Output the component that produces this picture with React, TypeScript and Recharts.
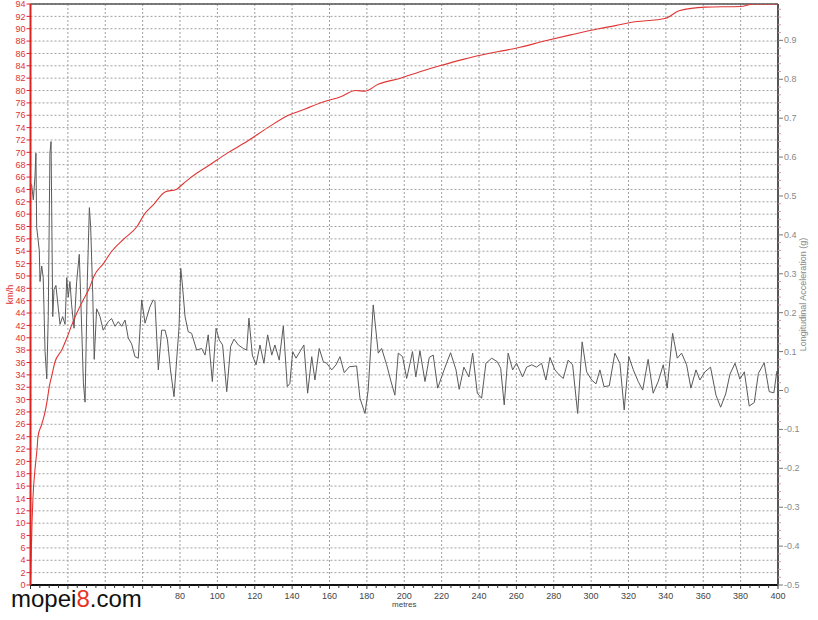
import React from 'react';
import {
  ComposedChart, Line, XAxis, YAxis, CartesianGrid, ReferenceLine,
} from 'recharts';

// speed trace (km/h) against distance (metres)
const SPEED_DIST = [
  0, 0.8, 1.3, 2.5, 3.5, 4, 6, 7.8, 9, 10, 11.5, 13, 16.7, 19.5, 22, 24.8, 28, 31.5, 34, 39, 43.5,
  50, 57, 61, 65.7, 72, 78, 82, 86, 96, 106, 117, 127, 138, 147, 155, 166, 174, 179, 186, 198,
  208, 219, 231, 245, 254, 262, 275, 289, 304, 313, 321, 340, 347, 361, 380, 387, 400,
];
const SPEED_KMH = [
  0, 10, 14, 19, 22, 24, 26, 28, 30, 32, 34, 36, 38, 40, 42, 44, 46, 48, 50, 52, 54,
  56, 58, 60, 61.5, 63.6, 64, 65, 66, 68, 70, 72, 74, 76, 77, 78, 79, 80, 79.9, 81, 82,
  83, 84, 85, 86, 86.5, 87, 88, 89, 90, 90.5, 91, 91.7, 92.9, 93.5, 93.6, 94, 94,
];

// longitudinal acceleration (g) against distance (metres)
const ACCEL_DIST = [
  0.6, 1.5, 2.4, 2.9, 3.3, 4.7, 5.1, 6.0, 6.8, 7.8, 8.7, 9.5, 10.4, 11.0, 11.9, 12.6, 13.6, 14.9,
  15.8, 17.2, 18.5, 19.4, 20.2, 21.1, 22.0, 23.3, 24.7, 26.1, 27.0, 28.3, 29.2, 30.4, 31.5, 32.2,
  33.3, 34.1, 35.4, 37.2, 38.9, 41.6, 43.4, 45.2, 47.0, 48.8, 50.6, 52.3, 54.1, 55.9, 57.7, 59.5,
  61.3, 63.9, 65.7, 66.6, 68.4, 70.2, 72.0, 73.3, 74.9, 76.8, 78.2, 79.5, 80.4, 81.2, 82.7, 84.4,
  86.2, 88.9, 91.6, 93.4, 95.1, 97.3, 99.3, 101.0, 102.8, 105.0, 107.1, 108.9, 111.2, 113.9, 115.7,
  116.9, 118.7, 120.7, 122.8, 124.9, 126.9, 129.1, 130.8, 133.1, 135.3, 137.4, 138.8, 140.3, 142.1,
  144.2, 146.3, 148.3, 150.5, 152.2, 154.5, 156.7, 158.5, 161.2, 163.5, 165.6, 167.9, 170.6, 174.5,
  176.3, 179.0, 180.7, 182.0, 183.4, 186.1, 187.9, 190.6, 192.7, 195.0, 196.8, 199.1, 201.3, 203.1,
  204.4, 206.2, 208.4, 211.1, 213.4, 215.5, 217.9, 220.5, 222.7, 224.8, 227.7, 229.4, 231.9, 234.6,
  236.6, 239.1, 241.4, 243.7, 246.8, 249.8, 251.6, 253.5, 255.6, 258.0, 260.1, 263.3, 265.5, 268.2,
  270.8, 273.5, 275.8, 278.0, 280.6, 282.9, 285.1, 287.7, 290.1, 292.8, 295.2, 297.6, 300.3, 302.6,
  304.7, 306.9, 309.7, 312.7, 315.4, 317.7, 320.2, 322.5, 325.2, 327.6, 330.5, 333.2, 335.9, 338.6,
  340.7, 343.6, 346.1, 348.4, 351.1, 353.4, 356.1, 358.2, 360.9, 363.9, 366.8, 369.3, 372.0, 374.3,
  377.0, 379.6, 382.0, 384.6, 387.3, 389.5, 392.6, 395.3, 397.8, 399.4,
];
const ACCEL_G = [
  0.53, 0.49, 0.55, 0.61, 0.42, 0.36, 0.28, 0.32, 0.29, 0.10, 0.03, 0.19, 0.61, 0.64, 0.19, 0.26, 0.27, 0.21,
  0.17, 0.19, 0.17, 0.29, 0.24, 0.28, 0.22, 0.16, 0.28, 0.35, 0.22, 0.02, -0.03, 0.28, 0.47, 0.42,
  0.25, 0.08, 0.21, 0.19, 0.155, 0.177, 0.185, 0.165, 0.177, 0.165, 0.181, 0.135, 0.12, 0.087, 0.083, 0.233,
  0.173, 0.215, 0.233, 0.228, 0.053, 0.155, 0.155, 0.13, 0.053, -0.016, 0.078, 0.164, 0.314, 0.276, 0.19, 0.151,
  0.147, 0.104, 0.108, 0.091, 0.143, 0.023, 0.16, 0.13, 0.117, -0.003, 0.113, 0.132, 0.117, 0.108, 0.104,
  0.186, 0.091, 0.066, 0.117, 0.07, 0.143, 0.091, 0.117, 0.078, 0.166, 0.01, 0.018, 0.1, 0.083,
  0.1, 0.117, -0.007, 0.087, 0.027, 0.108, 0.074, 0.07, 0.053, 0.066, 0.087, 0.046, 0.061, 0.063,
  -0.02, -0.059, 0.001, 0.104, 0.22, 0.096, 0.108, 0.066, 0.027, -0.012, 0.096, 0.087, 0.031, 0.07,
  0.1, 0.035, 0.102, 0.023, 0.085, 0.091, 0.006, 0.042, 0.071, 0.097, 0.053, 0.003, 0.06, 0.035,
  0.096, -0.007, -0.02, 0.07, 0.083, 0.074, 0.057, -0.037, 0.096, 0.053, 0.07, 0.035, 0.06, 0.066,
  0.06, 0.07, 0.027, 0.085, 0.053, 0.04, 0.031, 0.078, 0.066, -0.059, 0.125, 0.048, 0.027, 0.017,
  0.053, 0.01, 0.012, 0.096, 0.07, -0.05, 0.087, 0.054, 0.023, 0.001, 0.08, -0.007, 0.023, 0.066,
  0.006, 0.147, 0.083, 0.096, 0.066, 0.006, 0.053, 0.027, 0.048, 0.06, -0.012, -0.043, -0.009, 0.042,
  0.07, 0.029, 0.048, -0.04, -0.031, 0.044, 0.071, -0.003, -0.006, 0.05,
];

const X_MAJOR = [0, 20, 40, 60, 80, 100, 120, 140, 160, 180, 200, 220, 240, 260, 280, 300, 320, 340, 360, 380, 400];
// labels 0..60 sit under the watermark in the picture
const X_LABELS = [80, 100, 120, 140, 160, 180, 200, 220, 240, 260, 280, 300, 320, 340, 360, 380, 400];
const X_TICKS = Array.from({ length: 81 }, (_, i) => i * 5);
const KMH_TICKS = Array.from({ length: 48 }, (_, i) => i * 2);
const G_TICKS = Array.from({ length: 75 }, (_, i) => Math.round((-0.5 + i * 0.02) * 100) / 100);

const speedData = SPEED_DIST.map((d, i) => ({ d, v: SPEED_KMH[i] }));
const accelData = ACCEL_DIST.map((d, i) => ({ d, g: ACCEL_G[i] }));

const FONT = '"Liberation Sans", Arial, sans-serif';

function XTick({ x, y, payload }: any) {
  const major = payload.value % 20 === 0;
  return (
    <g>
      <line x1={x} x2={x} y1={y} y2={y + (major ? 4 : 3)} stroke="#333" strokeWidth={1} />
      {X_LABELS.includes(payload.value) && (
        <text x={x} y={y + 14} textAnchor="middle" fontSize={9} fill="#444" fontFamily={FONT}>
          {payload.value}
        </text>
      )}
    </g>
  );
}

function GTick({ x, y, payload }: any) {
  const v = payload.value;
  const major = Math.abs(Math.round(v * 10) - v * 10) < 1e-6;
  return (
    <g>
      <line x1={x} x2={x + (major ? 5 : 3)} y1={y} y2={y} stroke={major ? '#777' : '#c9a0a0'} strokeWidth={1} />
      {major && (
        <text x={x + 6} y={y + 3} textAnchor="start" fontSize={9} fill="#888" fontFamily={FONT}>
          {Math.abs(v) < 1e-6 ? '0' : String(Math.round(v * 10) / 10)}
        </text>
      )}
    </g>
  );
}

export default function App() {
  return (
    <div style={{ position: 'absolute', left: 0, top: 0, width: 818, height: 620, background: '#fff', fontFamily: FONT }}>
      <ComposedChart width={818} height={620} margin={{ top: 4, right: 0, bottom: 0, left: 0 }}>
        <CartesianGrid
          xAxisId="x"
          yAxisId="left"
          stroke="#a0a0a0"
          strokeDasharray="2 2"
          verticalValues={X_MAJOR}
        />
        <XAxis
          xAxisId="x"
          dataKey="d"
          type="number"
          domain={[0, 400]}
          ticks={X_TICKS}
          interval={0}
          height={35}
          tick={<XTick />}
          tickLine={false}
          tickSize={0}
          tickMargin={0}
          axisLine={{ stroke: '#111', strokeWidth: 2 }}
          allowDataOverflow
          label={{ value: 'metres', position: 'insideBottom', offset: 13, fontSize: 8, fill: '#444' }}
        />
        <YAxis
          yAxisId="left"
          type="number"
          domain={[0, 94]}
          ticks={KMH_TICKS}
          interval={0}
          width={30.5}
          tick={{ fill: '#d33', fontSize: 9, fontFamily: FONT }}
          tickSize={4}
          tickMargin={1}
          tickLine={{ stroke: '#d22' }}
          axisLine={{ stroke: '#d22', strokeWidth: 2 }}
          allowDataOverflow
          label={{ value: 'km/h', angle: -90, position: 'center', dx: -5, fontSize: 9, fill: '#d33' }}
        />
        <YAxis
          yAxisId="right"
          orientation="right"
          type="number"
          domain={[-0.5, 0.9935]}
          ticks={G_TICKS}
          interval={0}
          width={40}
          tick={<GTick />}
          tickLine={false}
          tickSize={0}
          tickMargin={0}
          axisLine={{ stroke: '#555', strokeWidth: 2 }}
          allowDataOverflow
          label={{ value: 'Longitudinal Acceleration (g)', angle: -90, position: 'center', dx: 5, fontSize: 9, fill: '#888' }}
        />
        <ReferenceLine xAxisId="x" yAxisId="left" y={94} stroke="#555" strokeWidth={1.5} />
        <Line
          xAxisId="x"
          yAxisId="right"
          data={accelData}
          dataKey="g"
          type="linear"
          stroke="#5a5a5a"
          strokeWidth={1}
          dot={false}
          isAnimationActive={false}
        />
        <Line
          xAxisId="x"
          yAxisId="left"
          data={speedData}
          dataKey="v"
          type="monotone"
          stroke="#e03535"
          strokeWidth={1.1}
          dot={false}
          isAnimationActive={false}
        />
      </ComposedChart>
      <div
        style={{
          position: 'absolute', left: 11, top: 591, padding: 0,
          fontSize: 24, lineHeight: '16px', color: '#111', fontFamily: FONT, whiteSpace: 'nowrap',
        }}
      >
        mopei<span style={{ color: '#e8321e' }}>8</span>.com
      </div>
    </div>
  );
}
